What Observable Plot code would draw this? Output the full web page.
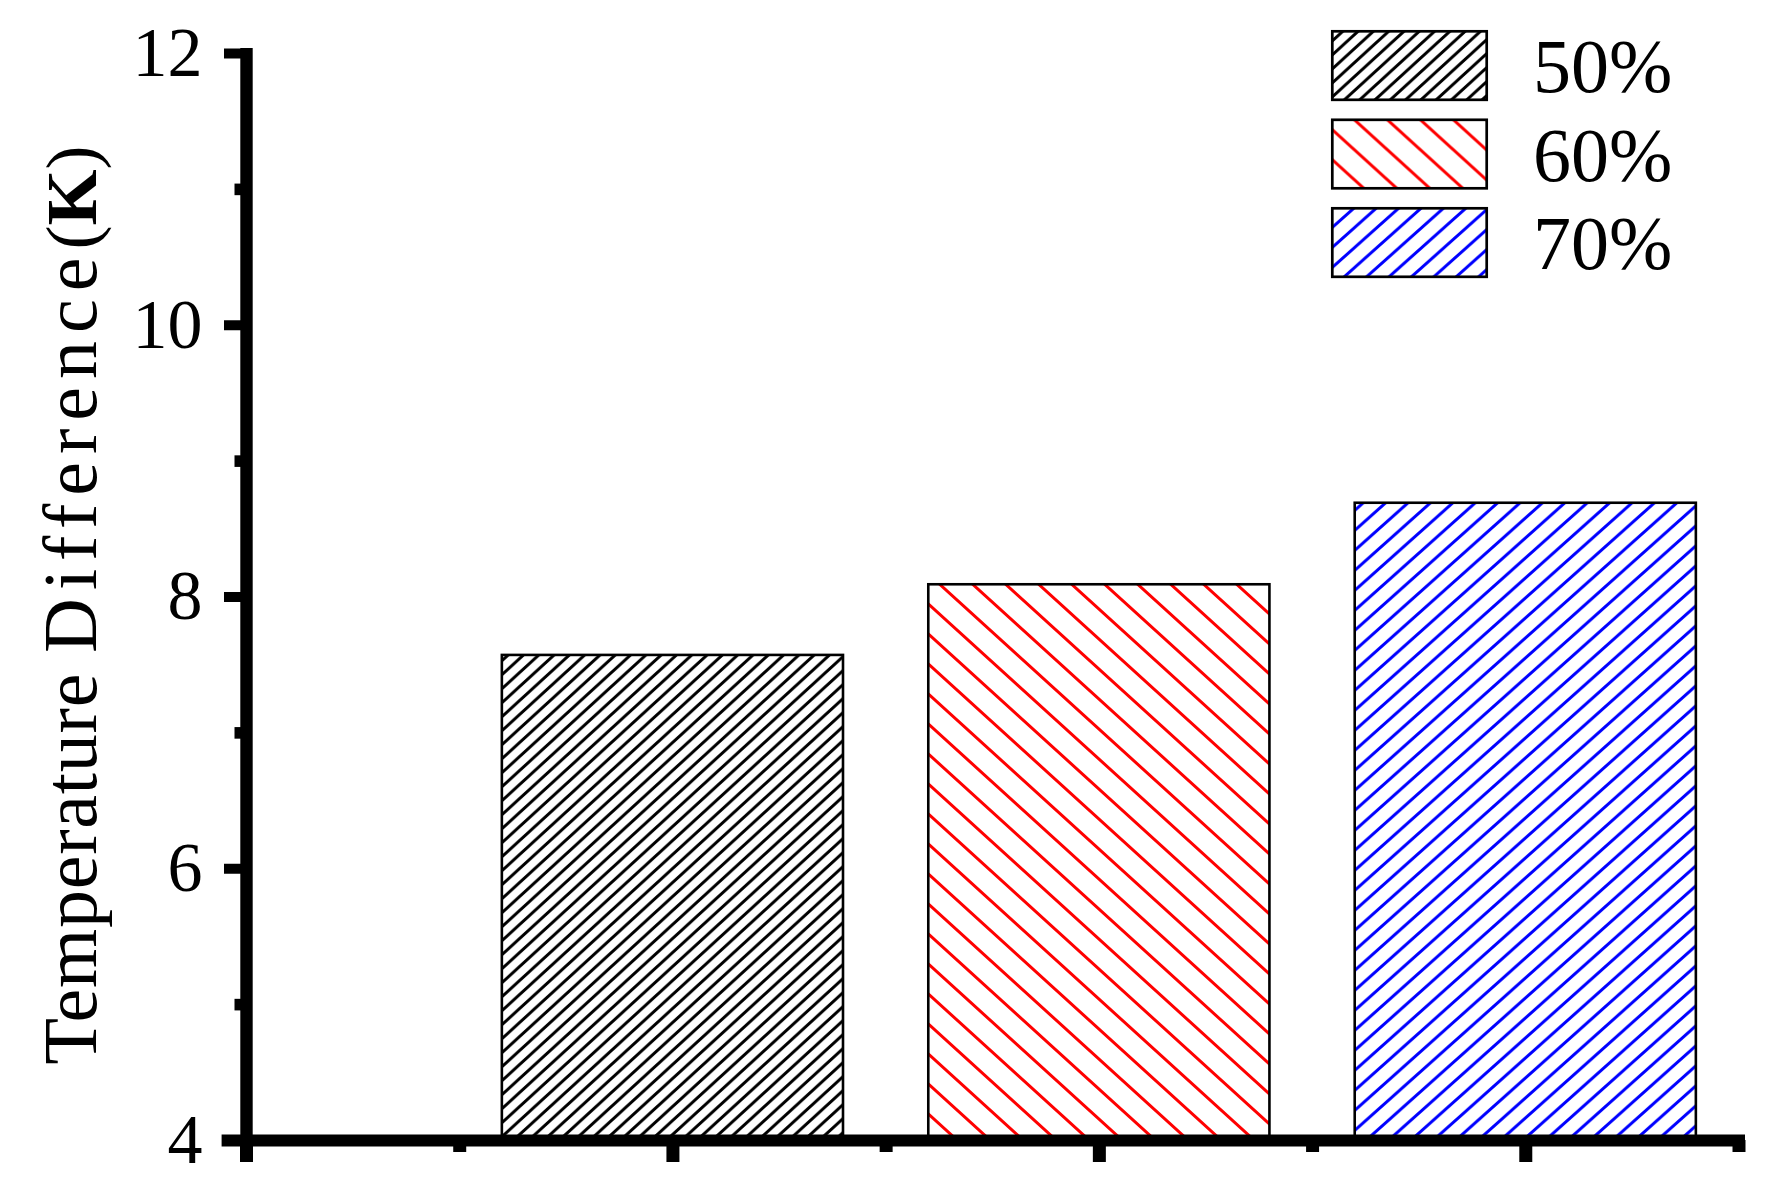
<!DOCTYPE html>
<html><head><meta charset="utf-8">
<script src="https://cdn.jsdelivr.net/npm/d3@7"></script>
<script src="https://cdn.jsdelivr.net/npm/@observablehq/plot@0.6"></script>
<style>
html,body{margin:0;padding:0;background:#fff;}
#wrap{position:relative;width:1777px;height:1185px;}
#legend{position:absolute;left:0;top:0;pointer-events:none;}
</style></head><body><div id="wrap"></div>
<script>
const categories = ["50%", "60%", "70%"];
const values = [7.57, 8.09, 8.69];
const yTicksMajor = [4, 6, 8, 10, 12];
const yTicksMinor = [5, 7, 9, 11];
const xTicksMajor = [0, 1, 2, 3];
const xTicksMinor = [0.5, 1.5, 2.5, 3.5];
const yLabelParts = ["Temperature", "Difference", "(", "K", ")"];

const FONT = "'Liberation Serif','Times New Roman',serif";
const hatchStyles = [
  {color: "#000000", w: 15.3, h: 14, dir: "/"},
  {color: "#ff0000", w: 33, h: 30, dir: "\\"},
  {color: "#0000ff", w: 22.4, h: 20, dir: "/"}
];
const patternIds = ["hatch50", "hatch60", "hatch70"];

const data = categories.map((c, i) => ({cat: c, pos: i + 1, value: values[i]}));
const labelText = yLabelParts[0] + " " + yLabelParts[1] + yLabelParts[2] + yLabelParts[3] + yLabelParts[4];

function addPatterns(svgSel, ids) {
  const defs = svgSel.insert("defs", ":first-child");
  hatchStyles.forEach((s, i) => {
    const {w, h} = s;
    const p = defs.append("pattern").attr("id", ids[i])
      .attr("patternUnits", "userSpaceOnUse").attr("width", w).attr("height", h);
    p.append("rect").attr("width", w).attr("height", h).attr("fill", "#fff");
    const d = s.dir === "/"
      ? `M0,${h}L${w},0M${-w},${h}L${w},${-h}M0,${2*h}L${2*w},0`
      : `M0,0L${w},${h}M0,${-h}L${2*w},${h}M${-w},0L${w},${2*h}`;
    p.append("path").attr("d", d).attr("stroke", s.color).attr("stroke-width", 3).attr("fill", "none");
  });
}

const chart = Plot.plot({
  width: 1777, height: 1185,
  marginLeft: 246, marginRight: 38.5, marginTop: 53, marginBottom: 45,
  style: {fontFamily: FONT, background: "#fff", color: "#000"},
  x: {domain: [0, 3.5], axis: null},
  y: {domain: [4, 12], axis: null},
  color: {type: "ordinal", domain: categories, range: patternIds.map(id => `url(#${id})`)},
  marks: [
    Plot.rectY(data, {x1: d => d.pos - 0.4, x2: d => d.pos + 0.4, y1: 4, y2: "value", fill: "cat", stroke: "#000", strokeWidth: 2.6}),
    Plot.ruleY([4], {strokeWidth: 12, insetLeft: -24.4, insetRight: -6.5}),
    Plot.ruleX([0], {y1: 12, y2: 4, strokeWidth: 12.4, insetTop: -5}),
    Plot.axisY({ticks: yTicksMajor, tickSize: 22, strokeWidth: 10, tickPadding: 22, fontSize: 70, label: null}),
    Plot.axisY({ticks: yTicksMinor, tickSize: 11.5, strokeWidth: 11.6, tickFormat: () => "", label: null}),
    Plot.axisX({ticks: xTicksMajor, tickSize: 22, strokeWidth: 13, tickFormat: () => "", label: null}),
    Plot.axisX({ticks: xTicksMinor, tickSize: 12, strokeWidth: 13, tickFormat: () => "", label: null}),
    Plot.text([labelText], {text: d => d, frameAnchor: "left", textAnchor: "middle", rotate: -90, dx: -175, dy: 8, fontSize: 76, fill: "#000"})
  ]
});

const svg = d3.select(chart);
addPatterns(svg, patternIds);

// styled y label
const t = svg.selectAll("text").filter(function() { return this.textContent === labelText; });
t.text(null);
t.append("tspan").attr("letter-spacing", 0.8).text(yLabelParts[0] + "\u00a0");
t.append("tspan").attr("letter-spacing", 8).text(yLabelParts[1]);
t.append("tspan").attr("letter-spacing", 0).attr("font-size", 72).text(yLabelParts[2]);
t.append("tspan").attr("letter-spacing", 0).attr("font-size", 72).attr("font-weight", "bold").text(yLabelParts[3]);
t.append("tspan").attr("letter-spacing", 0).attr("font-size", 72).text(yLabelParts[4]);

const wrap = document.getElementById("wrap");
wrap.appendChild(chart);

// legend
const leg = d3.select(wrap).append("svg").attr("id", "legend").attr("width", 1777).attr("height", 1185);
const legIds = ["lhatch50", "lhatch60", "lhatch70"];
addPatterns(leg, legIds);
const rows = leg.selectAll("g.row").data(categories).join("g").attr("class", "row")
  .attr("transform", (d, i) => `translate(0,${i * 88.5})`);
rows.append("rect").attr("x", 1332.3).attr("y", 31.3).attr("width", 154.4).attr("height", 68.5)
  .attr("fill", (d, i) => `url(#${legIds[i]})`).attr("stroke", "#000").attr("stroke-width", 2.7);
rows.append("text").attr("x", 1533).attr("y", 92).attr("font-family", FONT).attr("font-size", 76)
  .attr("fill", "#000").text(d => d);
</script></body></html>
